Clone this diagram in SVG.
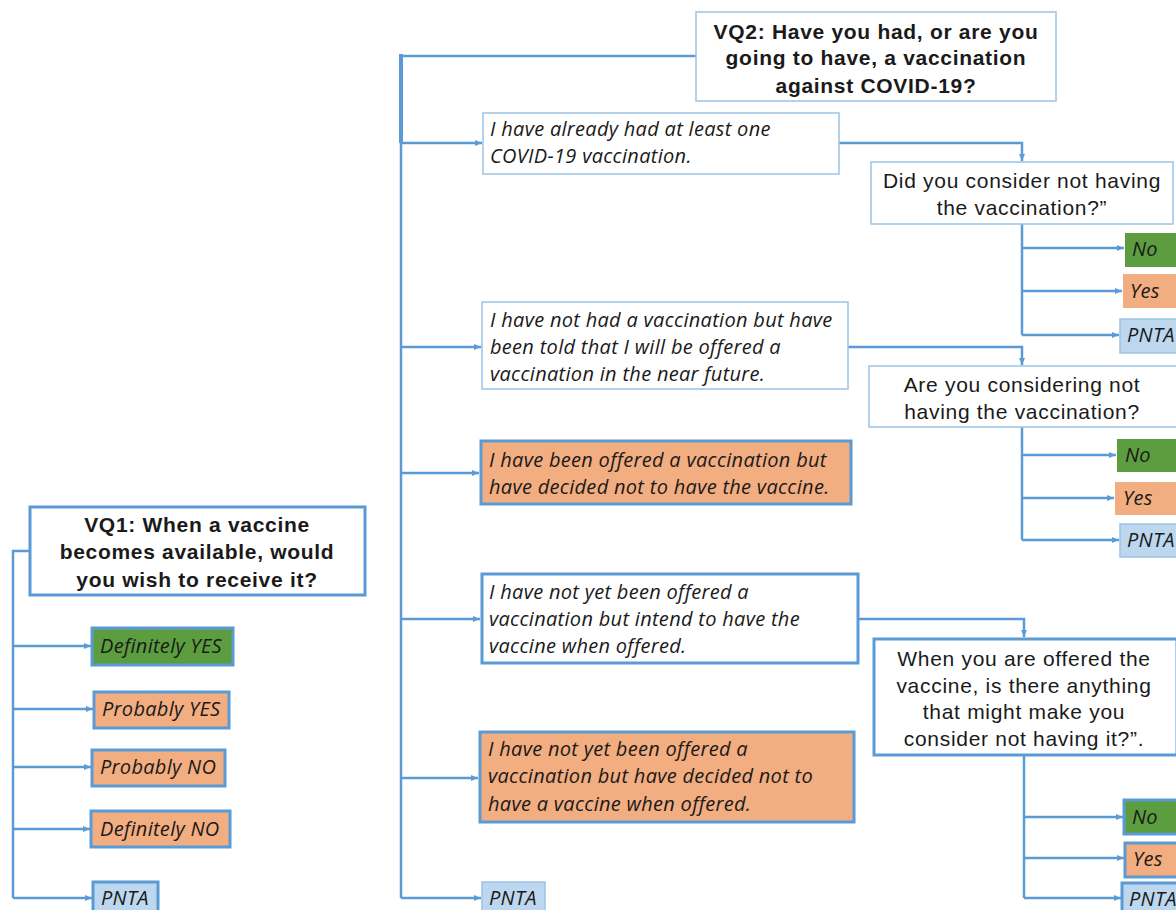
<svg xmlns="http://www.w3.org/2000/svg" width="1176" height="910" viewBox="0 0 1176 910">
<defs>
<marker id="arr" markerWidth="8" markerHeight="8" refX="7" refY="4" orient="auto" markerUnits="userSpaceOnUse">
<path d="M0,1 L7,4 L0,7 Z" fill="#5b9bd5"/>
</marker>
<style>
.q{font-family:"Liberation Sans",Arial,sans-serif;font-size:21px;letter-spacing:0.7px;fill:#1a1a1a;text-anchor:middle}
.qb{font-weight:bold}
.o{font-family:"Open Sans",Lato,sans-serif;font-style:italic;font-size:20px;letter-spacing:0.3px;fill:#1a1a1a}
.thin{fill:#fff;stroke:#9dc3e6;stroke-width:1.5}
.thick{stroke:#5b9bd5;stroke-width:3}
.white{fill:#fff}
.green{fill:#5c9e3f}
.orange{fill:#f2ad80}
.blue{fill:#bdd7ee}
.bb{stroke:#9dc3e6;stroke-width:1.5}
.c{fill:none;stroke:#5b9bd5;stroke-width:2.5}
.ca{fill:none;stroke:#5b9bd5;stroke-width:2.5;marker-end:url(#arr)}
</style>
</defs>
<rect width="1176" height="910" fill="#fff"/>

<g id="connectors">
<path class="c" d="M30,551 H13 V898"/>
<path class="ca" d="M13,646 H91"/>
<path class="ca" d="M13,709 H93"/>
<path class="ca" d="M13,767 H91"/>
<path class="ca" d="M13,829 H90"/>
<path class="ca" d="M13,898 H92"/>
<path class="c" d="M696,56 H401"/>
<path fill="none" stroke="#5b9bd5" stroke-width="4" d="M401,54 V143"/>
<path class="c" d="M401,143 V898"/>
<path class="ca" d="M401,143 H482"/>
<path class="ca" d="M401,347 H481"/>
<path class="ca" d="M401,473 H479"/>
<path class="ca" d="M401,619 H480"/>
<path class="ca" d="M401,778 H478"/>
<path class="ca" d="M401,898 H481"/>
<path class="ca" d="M839,143 H1022 V161"/>
<path class="c" d="M1022,224 V335"/>
<path class="ca" d="M1022,248 H1124"/>
<path class="ca" d="M1022,291 H1122"/>
<path class="ca" d="M1022,335 H1119"/>
<path class="ca" d="M848,347 H1022 V365"/>
<path class="c" d="M1022,427 V540"/>
<path class="ca" d="M1022,455 H1116"/>
<path class="ca" d="M1022,498 H1114"/>
<path class="ca" d="M1022,540 H1119"/>
<path class="ca" d="M858,619 H1024 V637"/>
<path class="c" d="M1024,755 V898"/>
<path class="ca" d="M1024,817 H1123"/>
<path class="ca" d="M1024,858 H1124"/>
<path class="ca" d="M1024,898 H1121"/>
</g>

<g id="vq1">
<rect x="30" y="507" width="335" height="88" class="white thick"/>
<text class="q qb" x="197" y="532">VQ1: When a vaccine</text>
<text class="q qb" x="197" y="559">becomes available, would</text>
<text class="q qb" x="197" y="587">you wish to receive it?</text>
</g>
<g id="vq1-def-yes">
<rect x="92" y="628" width="141" height="37" class="green thick"/>
<text class="o" x="100" y="653">Definitely YES</text>
</g>
<g id="vq1-prob-yes">
<rect x="94" y="692" width="135" height="36" class="orange thick"/>
<text class="o" x="102" y="716">Probably YES</text>
</g>
<g id="vq1-prob-no">
<rect x="92" y="750" width="133" height="36" class="orange thick"/>
<text class="o" x="100" y="774">Probably NO</text>
</g>
<g id="vq1-def-no">
<rect x="91" y="811" width="139" height="36" class="orange thick"/>
<text class="o" x="100" y="836">Definitely NO</text>
</g>
<g id="vq1-pnta">
<rect x="93" y="882" width="65" height="32" class="blue thick"/>
<text class="o" x="101" y="905">PNTA</text>
</g>

<g id="vq2">
<rect x="696" y="12" width="360" height="89" class="thin"/>
<text class="q qb" x="876" y="39">VQ2: Have you had, or are you</text>
<text class="q qb" x="876" y="65">going to have, a vaccination</text>
<text class="q qb" x="876" y="93">against COVID-19?</text>
</g>

<g id="opt-already">
<rect x="483" y="113" width="356" height="61" class="thin"/>
<text class="o" x="490" y="136">I have already had at least one</text>
<text class="o" x="490" y="163">COVID-19 vaccination.</text>
</g>
<g id="q-did-consider">
<rect x="871" y="162" width="302" height="62" class="thin"/>
<text class="q" x="1022" y="188">Did you consider not having</text>
<text class="q" x="1022" y="215">the vaccination?”</text>
</g>
<g id="a1-no"><rect x="1125" y="233" width="55" height="34" class="green"/><text class="o" x="1132" y="256">No</text></g>
<g id="a1-yes"><rect x="1123" y="274" width="57" height="34" class="orange"/><text class="o" x="1130" y="298">Yes</text></g>
<g id="a1-pnta"><rect x="1120" y="319" width="60" height="34" class="blue bb"/><text class="o" x="1127" y="342">PNTA</text></g>

<g id="opt-told">
<rect x="482" y="302" width="366" height="87" class="thin"/>
<text class="o" x="490" y="327">I have not had a vaccination but have</text>
<text class="o" x="490" y="354">been told that I will be offered a</text>
<text class="o" x="490" y="381">vaccination in the near future.</text>
</g>
<g id="q-considering">
<rect x="869" y="366" width="310" height="61" class="thin"/>
<text class="q" x="1022" y="392">Are you considering not</text>
<text class="q" x="1022" y="419">having the vaccination?</text>
</g>
<g id="a2-no"><rect x="1117" y="439" width="63" height="33" class="green"/><text class="o" x="1125" y="462">No</text></g>
<g id="a2-yes"><rect x="1115" y="482" width="65" height="33" class="orange"/><text class="o" x="1123" y="505">Yes</text></g>
<g id="a2-pnta"><rect x="1120" y="524" width="60" height="33" class="blue bb"/><text class="o" x="1127" y="547">PNTA</text></g>

<g id="opt-offered-declined">
<rect x="481" y="441" width="370" height="63" class="orange thick"/>
<text class="o" x="489" y="467">I have been offered a vaccination but</text>
<text class="o" x="489" y="494">have decided not to have the vaccine.</text>
</g>

<g id="opt-intend">
<rect x="482" y="574" width="376" height="89" class="white thick"/>
<text class="o" x="489" y="599">I have not yet been offered a</text>
<text class="o" x="489" y="626">vaccination but intend to have the</text>
<text class="o" x="489" y="653">vaccine when offered.</text>
</g>
<g id="q-when-offered">
<rect x="874" y="639" width="303" height="116" class="white thick"/>
<text class="q" x="1024" y="666">When you are offered the</text>
<text class="q" x="1024" y="693">vaccine, is there anything</text>
<text class="q" x="1024" y="719">that might make you</text>
<text class="q" x="1024" y="746">consider not having it?”.</text>
</g>
<g id="a3-no"><rect x="1124" y="800" width="56" height="34" class="green thick"/><text class="o" x="1132" y="824">No</text></g>
<g id="a3-yes"><rect x="1125" y="843" width="55" height="34" class="orange thick"/><text class="o" x="1133" y="866">Yes</text></g>
<g id="a3-pnta"><rect x="1122" y="883" width="58" height="32" class="blue thick"/><text class="o" x="1129" y="906">PNTA</text></g>

<g id="opt-not-offered-declined">
<rect x="480" y="732" width="374" height="90" class="orange thick"/>
<text class="o" x="488" y="756">I have not yet been offered a</text>
<text class="o" x="488" y="783">vaccination but have decided not to</text>
<text class="o" x="488" y="811">have a vaccine when offered.</text>
</g>

<g id="vq2-pnta">
<rect x="482" y="882" width="63" height="32" class="blue bb"/>
<text class="o" x="489" y="905">PNTA</text>
</g>
</svg>
